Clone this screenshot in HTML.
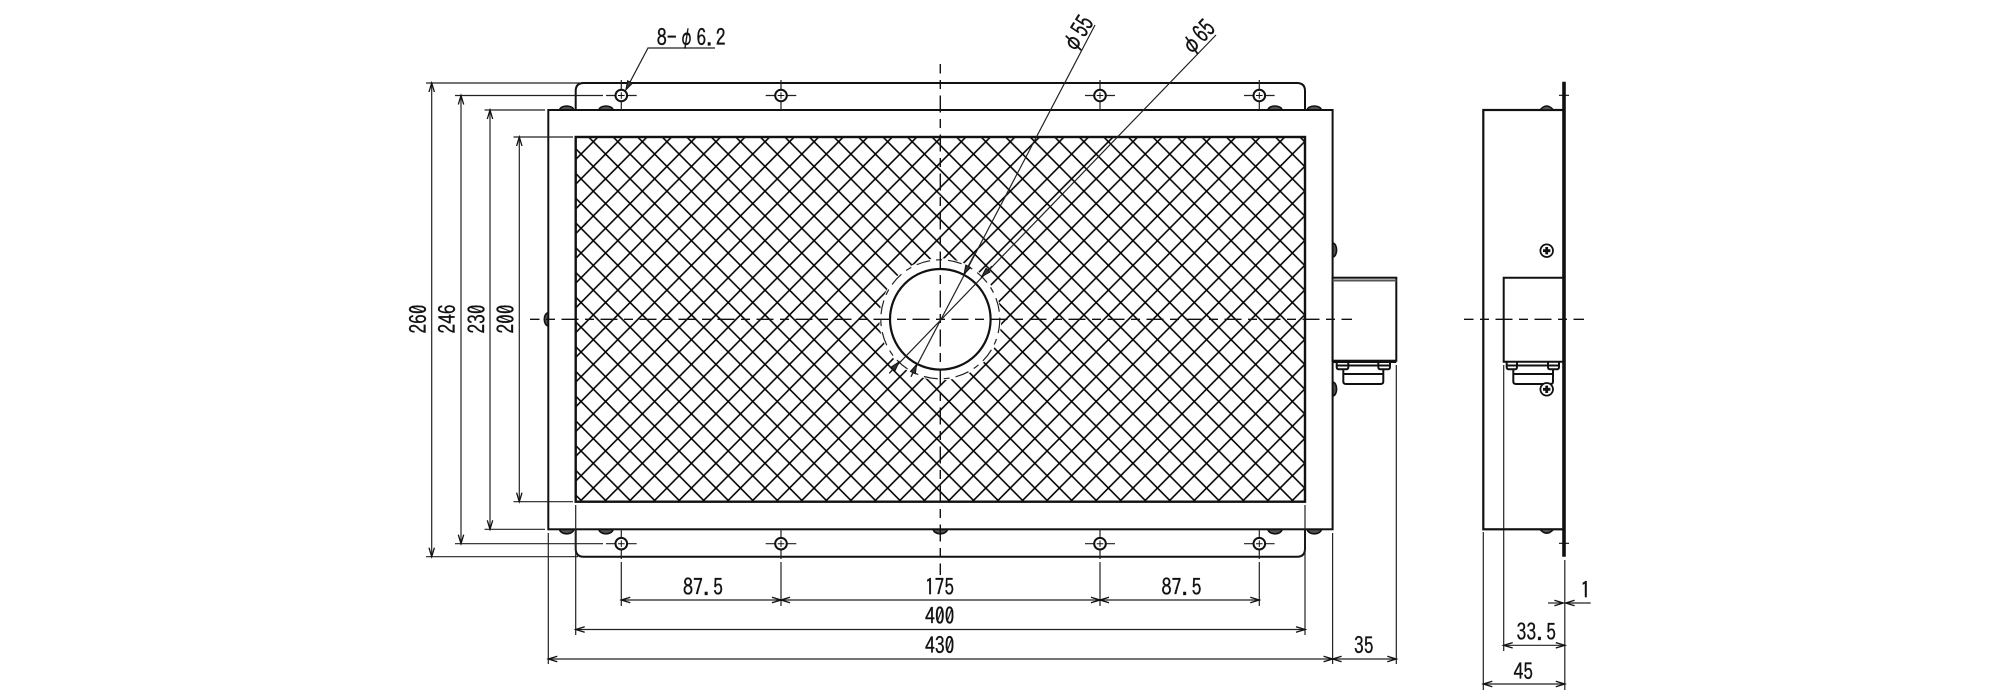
<!DOCTYPE html>
<html><head><meta charset="utf-8"><title>Drawing</title>
<style>html,body{margin:0;padding:0;background:#fff}svg{display:block}
text{font-family:"IPAGothic","Liberation Sans",sans-serif;font-size:23px;fill:#111;stroke:#111;stroke-width:.35px}
.m{stroke:#111;stroke-width:2;fill:none}
.t{stroke:#222;stroke-width:1.2;fill:none}
.c{stroke:#111;stroke-width:1.4;fill:none;stroke-dasharray:9 6.5 17 6.5;stroke-dashoffset:23}
.d{stroke:#222;stroke-width:1.2;fill:none;marker-start:url(#a);marker-end:url(#a)}
.b{fill:#555;stroke:#111;stroke-width:1.6}
</style></head><body>
<svg width="2000" height="700" viewBox="0 0 2000 700" xmlns="http://www.w3.org/2000/svg">
<defs>
<marker id="a" markerUnits="userSpaceOnUse" markerWidth="12" markerHeight="8" refX="10" refY="3.5" orient="auto-start-reverse"><path d="M1,0.8 L10,3.5 L1,6.2" fill="none" stroke="#111" stroke-width="1.3"/></marker>
<marker id="e" markerUnits="userSpaceOnUse" markerWidth="12" markerHeight="8" refX="10" refY="3.5" orient="auto"><path d="M1,0.8 L10,3.5 L1,6.2 Z" fill="#333" stroke="#111" stroke-width="1"/></marker>
<pattern id="h" patternUnits="userSpaceOnUse" x="593.3" y="141.7" width="24.53" height="24.74">
<path d="M-1,-1.01 L25.53,25.75 M25.53,-1.01 L-1,25.75" stroke="#000" stroke-width="1.55" fill="none"/></pattern>
</defs>

<!-- bolts main -->
<g class="b">
<ellipse cx="566.7" cy="110" rx="7" ry="4"/><ellipse cx="606" cy="110" rx="7" ry="4"/>
<ellipse cx="1275" cy="110" rx="7" ry="4"/><ellipse cx="1314.3" cy="110" rx="7" ry="4"/>
<ellipse cx="566.7" cy="529.3" rx="7" ry="4.5"/><ellipse cx="606" cy="529.3" rx="7" ry="4.5"/>
<ellipse cx="940.3" cy="529.3" rx="7" ry="4.5"/><ellipse cx="1275" cy="529.3" rx="7" ry="4.5"/><ellipse cx="1314.3" cy="529.3" rx="7" ry="4.5"/>
<ellipse cx="1332.6" cy="250" rx="4" ry="7"/><ellipse cx="1332.6" cy="389" rx="4" ry="7"/>
<ellipse cx="548.3" cy="319.3" rx="4" ry="6.5"/>
</g>

<!-- plate -->
<path class="m" d="M575.7,110 V91 Q575.7,83 583.7,83 H1297 Q1305,83 1305,91 V110 M575.7,529.3 V548.7 Q575.7,556.7 583.7,556.7 H1297 Q1305,556.7 1305,548.7 V529.3"/>
<!-- frame -->
<rect x="548.3" y="110" width="784.3" height="419.3" fill="#fff" stroke="#111" stroke-width="2"/>
<!-- hatch window -->
<rect x="575.7" y="137" width="729.3" height="364.7" fill="url(#h)" stroke="#111" stroke-width="2.4"/>

<!-- centre hole -->
<circle cx="940.3" cy="319.3" r="61" fill="#fff"/>
<circle cx="940.3" cy="319.3" r="59.5" fill="none" stroke="#222" stroke-width="1.2" stroke-dasharray="14 6 6 6"/>
<circle cx="940.3" cy="319.3" r="50.3" fill="#fff" stroke="#111" stroke-width="2.2"/>

<!-- connector main -->
<rect x="1332.6" y="277.7" width="63.7" height="83" fill="#fff" stroke="#111" stroke-width="2"/>
<path d="M1332.6,280.5 H1396.3" stroke="#555" stroke-width="2"/>
<path class="m" d="M1332.6,362 H1396.3"/>
<g class="m" stroke-width="1.6">
<path d="M1336.7,362 V367 Q1336.7,369.3 1339,369.3 H1346 Q1348.3,369.3 1348.3,367 V362 M1378.3,362 V367 Q1378.3,369.3 1380.6,369.3 H1387.7 Q1390,369.3 1390,367 V362 M1336.7,365.5 H1390"/>
<path d="M1343.3,370 V381.5 Q1343.3,384 1346,384 H1380.6 Q1383.3,384 1383.3,381.5 V370 M1343.3,374 H1383.3"/>
</g>

<!-- mounting holes -->
<g class="t">
<path d="M621.3,80 V110 M781,80 V110 M1100,80 V110 M1259.3,80 V110 M621.3,529.3 V559 M781,529.3 V559 M1100,529.3 V559 M1259.3,529.3 V559"/>
<path d="M606,95.5 H636.7 M765.7,95.5 H796.3 M1085,95.5 H1115 M1244,95.5 H1274.6"/>
<path d="M606,543.7 H636.7 M765.7,543.7 H796.3 M1085,543.7 H1115 M1244,543.7 H1274.6"/>
</g>
<g fill="#fff" stroke="#111" stroke-width="2">
<circle cx="621.3" cy="95.5" r="5.8"/><circle cx="781" cy="95.5" r="5.8"/><circle cx="1100" cy="95.5" r="5.8"/><circle cx="1259.3" cy="95.5" r="5.8"/>
<circle cx="621.3" cy="543.7" r="5.8"/><circle cx="781" cy="543.7" r="5.8"/><circle cx="1100" cy="543.7" r="5.8"/><circle cx="1259.3" cy="543.7" r="5.8"/>
</g>
<path d="M618,95.5 H624.6 M621.3,92.2 V98.8 M777.7,95.5 H784.3 M781,92.2 V98.8 M1096.7,95.5 H1103.3 M1100,92.2 V98.8 M1256,95.5 H1262.6 M1259.3,92.2 V98.8 M618,543.7 H624.6 M621.3,540.4 V547 M777.7,543.7 H784.3 M781,540.4 V547 M1096.7,543.7 H1103.3 M1100,540.4 V547 M1256,543.7 H1262.6 M1259.3,540.4 V547" stroke="#111" stroke-width="1"/>

<!-- centre lines -->
<path class="c" d="M530,319.3 H1352"/>
<path class="c" d="M940.3,64 V575"/>
<path class="c" d="M1464,319.3 H1584"/>

<!-- extension lines left -->
<g class="t">
<path d="M426,83 H580 M455,95.5 H603 M484.5,110 H545 M513.5,137 H573"/>
<path d="M426,556.7 H578 M455,543.7 H603 M484.5,529.3 H545 M513.5,501.7 H573"/>
<path d="M548.3,533 V664 M575.7,505 V635 M1305,505 V635 M1332.6,533 V664 M1396.3,365 V664"/>
<path d="M621.3,562 V606 M781,562 V606 M1100,562 V606 M1259.3,562 V606"/>
<path d="M1503.7,365 V651 M1483.3,532 V690 M1564.8,560 V690"/>
</g>

<!-- dimension lines -->
<line class="d" x1="431.7" y1="83" x2="431.7" y2="556.7"/>
<line class="d" x1="461" y1="95.5" x2="461" y2="543.7"/>
<line class="d" x1="490" y1="110" x2="490" y2="529.3"/>
<line class="d" x1="519.3" y1="137" x2="519.3" y2="501.7"/>
<line class="d" x1="621.3" y1="600" x2="781" y2="600"/>
<line class="d" x1="781" y1="600" x2="1100" y2="600"/>
<line class="d" x1="1100" y1="600" x2="1259.3" y2="600"/>
<line class="d" x1="575.7" y1="629.5" x2="1305" y2="629.5"/>
<line class="d" x1="548.3" y1="659" x2="1332.6" y2="659"/>
<line class="d" x1="1332.6" y1="659" x2="1396.3" y2="659"/>
<line class="d" x1="1503.7" y1="645.3" x2="1564.8" y2="645.3"/>
<line class="d" x1="1483.3" y1="684" x2="1564.8" y2="684"/>
<g class="t">
<line x1="1548" y1="603" x2="1563.4" y2="603" marker-end="url(#a)"/>
<line x1="1590.7" y1="603" x2="1565.6" y2="603" marker-end="url(#a)"/>
</g>

<!-- side view -->
<rect x="1483.3" y="110" width="80.7" height="419.3" fill="none" stroke="#111" stroke-width="2.2"/>
<path d="M1564,81.7 V556.7" stroke="#111" stroke-width="3.6" fill="none"/>
<path d="M1559,95.3 H1569 M1559,543.3 H1569" stroke="#111" stroke-width="1.2"/>
<path class="b" d="M1540,110 Q1546.7,102 1553.4,110 Z"/>
<path class="b" d="M1540,529.3 Q1546.7,537 1553.4,529.3 Z"/>
<path class="m" d="M1563,277.7 H1503.7 V361.7 H1563"/>
<g class="m" stroke-width="1.6">
<path d="M1506.7,362 V367 Q1506.7,369.3 1509,369.3 H1514.7 Q1517,369.3 1517,367 V362 M1548,362 V367 Q1548,369.3 1550.3,369.3 H1556.7 Q1559,369.3 1559,367 V362 M1506.7,365.5 H1559"/>
<path d="M1513.3,370 V381.5 Q1513.3,384 1516,384 H1550.5 Q1553,384 1553,381.5 V370 M1513.3,374 H1553"/>
</g>
<g fill="#fff" stroke="#111" stroke-width="1.8">
<circle cx="1546.7" cy="250.7" r="6.3"/><circle cx="1546.7" cy="389.3" r="6.3"/>
</g>
<path d="M1543,250.7 H1550.4 M1546.7,247 V254.4 M1543,389.3 H1550.4 M1546.7,385.6 V393" stroke="#111" stroke-width="2.8"/>

<!-- leaders -->
<g fill="none" stroke="#222" stroke-width="1.2">
<path d="M1095,25 L911,376.7"/>
<path d="M1216,35 L889.3,373.3"/>
<path d="M715,48 H648 L625.8,90" marker-end="url(#e)"/>
<line x1="975" y1="253.3" x2="964" y2="274.2" marker-end="url(#e)"/>
<line x1="911" y1="376.7" x2="916.6" y2="364.4" marker-end="url(#e)"/>
<line x1="992" y1="266" x2="981.7" y2="276.6" marker-end="url(#e)"/>
<line x1="889.3" y1="373.3" x2="898.9" y2="362" marker-end="url(#e)"/>
</g>

<!-- text -->
<text x="656.7" y="45.7" textLength="20" lengthAdjust="spacingAndGlyphs">8-</text>
<text x="679" y="46" textLength="15" lengthAdjust="spacingAndGlyphs" style="font-size:25px">φ</text>
<text x="696.5" y="45.7" textLength="29" lengthAdjust="spacingAndGlyphs">6.2</text>
<text transform="translate(1075,55) rotate(-58)" textLength="38" lengthAdjust="spacingAndGlyphs" style="font-size:25px">φ55</text>
<text transform="translate(1190.7,57.5) rotate(-46)" textLength="38" lengthAdjust="spacingAndGlyphs" style="font-size:25px">φ65</text>
<text x="683" y="595" textLength="40" lengthAdjust="spacingAndGlyphs">87.5</text>
<text x="1161.5" y="595" textLength="40" lengthAdjust="spacingAndGlyphs">87.5</text>
<text x="925" y="595" textLength="29" lengthAdjust="spacingAndGlyphs">175</text>
<text x="925" y="624" textLength="29.5" lengthAdjust="spacingAndGlyphs">400</text>
<text x="925" y="653.3" textLength="29.5" lengthAdjust="spacingAndGlyphs">430</text>
<text x="1354" y="653.3" textLength="19.5" lengthAdjust="spacingAndGlyphs">35</text>
<text x="1580.5" y="598" textLength="10" lengthAdjust="spacingAndGlyphs">1</text>
<text x="1516.5" y="640" textLength="39.5" lengthAdjust="spacingAndGlyphs">33.5</text>
<text x="1513.5" y="679.3" textLength="19.5" lengthAdjust="spacingAndGlyphs">45</text>
<text transform="translate(426.7,333.5) rotate(-90)" textLength="29" lengthAdjust="spacingAndGlyphs">260</text>
<text transform="translate(455.7,333.5) rotate(-90)" textLength="29" lengthAdjust="spacingAndGlyphs">246</text>
<text transform="translate(485,333.5) rotate(-90)" textLength="29" lengthAdjust="spacingAndGlyphs">230</text>
<text transform="translate(514,333.5) rotate(-90)" textLength="29" lengthAdjust="spacingAndGlyphs">200</text>
</svg>
</body></html>
